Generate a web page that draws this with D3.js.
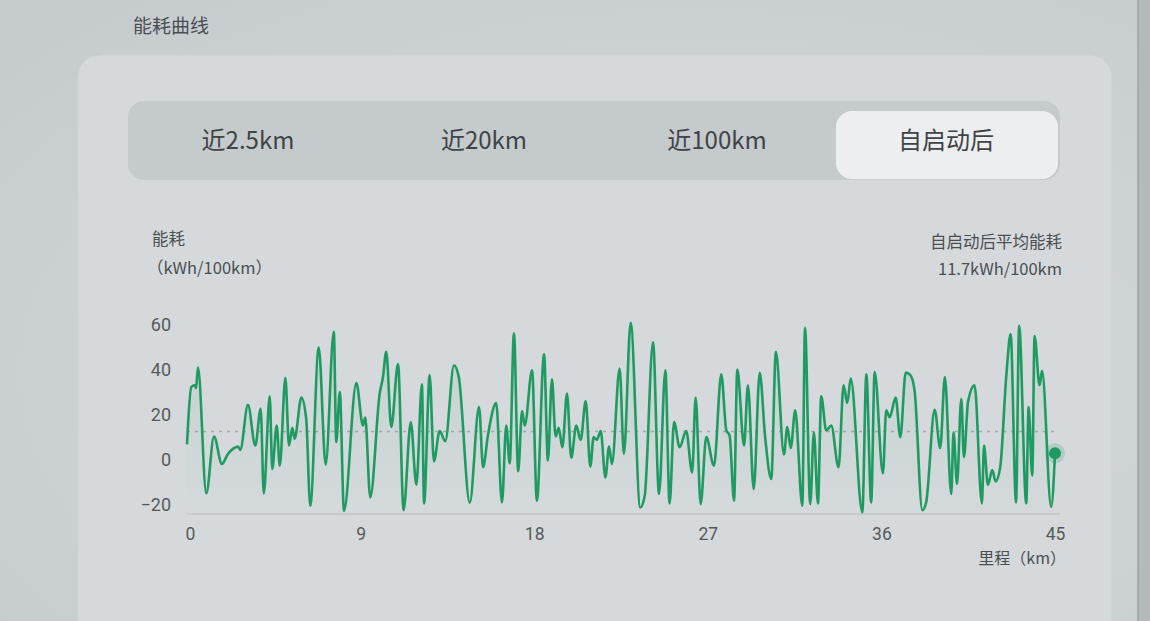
<!DOCTYPE html>
<html><head><meta charset="utf-8">
<script src="https://cdn.jsdelivr.net/npm/d3@7"></script>
<style>
html,body{margin:0;padding:0;background:#cfd3d5;}
svg{display:block;font-family:"Noto Sans CJK SC","Noto Sans",sans-serif;}
</style></head>
<body><svg id="c" width="1150" height="621"></svg>
<script>
// ---- data ----
const tabs = ["近2.5km", "近20km", "近100km", "自启动后"];
const xTickValues = [0, 9, 18, 27, 36, 45];
const yTickValues = [-20, 0, 20, 40, 60];
const averageValue = 11.7;
const distanceKm = [0,0.22,0.40,0.47,0.57,1.00,1.40,1.81,2.13,2.38,2.64,2.76,3.16,3.54,3.82,3.98,4.29,4.42,4.65,4.81,
5.10,5.29,5.46,5.58,5.93,6.18,6.39,6.83,7.19,7.61,7.74,7.92,8.14,8.78,9.12,9.24,9.50,9.99,10.16,10.33,
10.59,10.94,11.23,11.60,11.89,12.18,12.29,12.58,12.80,13.10,13.39,13.84,14.09,14.66,15.14,15.35,15.60,16.03,16.33,16.55,
16.73,16.95,17.17,17.37,17.51,17.89,18.14,18.51,18.71,18.92,19.11,19.27,19.46,19.70,19.92,20.18,20.41,20.67,20.91,21.08,
21.25,21.45,21.69,21.88,22.03,22.43,22.65,23.00,23.50,23.73,24.16,24.47,24.80,25.02,25.25,25.54,25.88,26.19,26.37,26.63,
26.92,27.32,27.70,27.96,28.13,28.36,28.53,28.88,29.08,29.38,29.69,29.98,30.29,30.53,30.95,31.12,31.30,31.53,31.90,32.04,
32.31,32.50,32.71,32.88,33.14,33.40,33.78,34.04,34.23,34.41,35.01,35.22,35.47,35.65,36.08,36.25,36.43,36.74,36.98,37.26,
37.50,37.72,38.12,38.32,38.76,39.05,39.29,39.62,39.74,39.92,40.14,40.28,40.49,40.83,41.21,41.32,41.52,41.75,41.92,42.16,
42.47,42.70,42.98,43.14,43.51,43.63,43.82,43.94,44.20,44.33,44.80,45.00];
const energyValues = [6,31.5,32.3,31,40.2,-15.8,9.5,-2.7,1.8,4,5,3.5,23.6,5.5,21.9,-15.8,27.4,-5,14.4,-3.5,
35.6,5.5,13.4,8.5,26.8,17.4,-21.3,49.1,-3,56.1,7,29.3,-23.6,33.3,14.4,17.9,-17.6,28.6,36,47.2,
13.7,41.7,-23.3,15.9,-12,32.7,-20.3,36.8,-1.5,11.9,7.4,41.2,36,-19.9,22.6,-4.2,9.9,24.4,-19.9,14.4,
-2.4,55.4,-6,20.8,14.4,39,-19.1,46.1,-1.2,35,9.5,13.4,4.7,28.6,0,14.4,8,25.3,-3.9,9.2,
8,11.9,-8.7,5,-2.7,39.7,1.8,60.1,-22.1,-16.9,51.4,-16.1,39,-20.3,15.9,4.7,11.9,-6.5,26.8,-20.6,
9.2,-3.5,37.2,12.2,10,-19.1,39.3,5.5,32.3,-13.9,37.8,8.5,-9.4,47.2,1.5,13.7,4.4,21.1,-21.3,57.9,
-20.6,11.4,-20.3,27.4,12.2,14.4,-4.2,32.3,24.4,35.3,-24.3,37.2,-19.9,38.2,-6.9,21.1,18.1,26.8,9.2,37.9,
36.8,30,-23.3,-19.9,21.4,4.4,36,-16.1,11.4,-11.6,26.3,0.3,24.8,32.3,-20.3,5.5,-12,-5.4,-10.5,-4.2,
36,55.1,-19.9,58.7,-20.3,22.6,-7.9,54.2,32.3,38.7,-21.8,2];

// ---- layout ----
const svg = d3.select("#c");
const W = 1150, H = 621;
const textCol = "#4a4f53";
const green = "#1f9a63";

const defs = svg.append("defs");
const bgGrad = defs.append("radialGradient").attr("id","bg").attr("cx","60%").attr("cy","60%").attr("r","80%");
bgGrad.append("stop").attr("offset","0%").attr("stop-color","#d7dbdd");
bgGrad.append("stop").attr("offset","100%").attr("stop-color","#c6cbce");
const areaGrad = defs.append("linearGradient").attr("id","ag").attr("x1",0).attr("x2",0).attr("y1",0).attr("y2",1);
areaGrad.append("stop").attr("offset","0%").attr("stop-color",green).attr("stop-opacity",0.10);
areaGrad.append("stop").attr("offset","100%").attr("stop-color",green).attr("stop-opacity",0.0);

svg.append("rect").attr("width",W).attr("height",H).attr("fill","url(#bg)");
// card
svg.append("rect").attr("x",78).attr("y",55).attr("width",1034).attr("height",620).attr("rx",22)
  .attr("fill","#d5d9db").attr("stroke","#cdd1d3");
// right bezel
svg.append("rect").attr("x",1138).attr("y",0).attr("width",12).attr("height",H).attr("fill","#b4b9bc");
svg.append("line").attr("x1",1138).attr("x2",1138).attr("y1",0).attr("y2",H).attr("stroke","#9ea3a6").attr("stroke-width",1.5);

// title
svg.append("text").attr("x",133).attr("y",33).attr("font-size",19).attr("fill",textCol).text("能耗曲线");

// tab bar
svg.append("rect").attr("x",128).attr("y",101).attr("width",932).attr("height",79).attr("rx",16).attr("fill","#c5cacd");
svg.append("rect").attr("x",836).attr("y",111).attr("width",222).attr("height",68).attr("rx",16).attr("fill","#eceeef");
const tabCenters = [248, 484, 717, 946];
svg.selectAll(".tab").data(tabs).join("text").attr("class","tab")
  .attr("x",(d,i)=>tabCenters[i]).attr("y",141).attr("dy","0.35em").attr("text-anchor","middle")
  .attr("font-size",24).attr("fill","#3f4447").text(d=>d);

// axis titles
svg.append("text").attr("x",152).attr("y",245).attr("font-size",16.5).attr("fill",textCol).text("能耗");
svg.append("text").attr("x",147).attr("y",274).attr("font-size",16.5).attr("fill",textCol).text("（kWh/100km）");
svg.append("text").attr("x",1062).attr("y",248).attr("text-anchor","end").attr("font-size",16.5).attr("fill",textCol).text("自启动后平均能耗");
svg.append("text").attr("x",1062).attr("y",275).attr("text-anchor","end").attr("font-size",16.5).attr("fill",textCol).text(averageValue + "kWh/100km");
svg.append("text").attr("x",1066).attr("y",564).attr("text-anchor","end").attr("font-size",16).attr("fill",textCol).text("里程（km）");

// scales
const x = d3.scaleLinear().domain([0,45]).range([187,1055]);
const y = d3.scaleLinear().domain([-25,60]).range([514,323]);

// x axis
const gx = svg.append("g").attr("transform",`translate(0,${y(-25)})`)
  .call(d3.axisBottom(x).tickValues(xTickValues).tickSize(0).tickPadding(14).tickFormat(d3.format("d")));
gx.select(".domain").attr("stroke","#b9bec1").attr("stroke-width",1.2).attr("d",`M187,0H1060`);
gx.selectAll("text").attr("font-size",17.5).attr("fill","#55595c").attr("font-family","Roboto,'Noto Sans',sans-serif");
gx.selectAll(".tick").filter(d=>d===0).select("text").attr("dx",3);

// y axis
const gy = svg.append("g").attr("transform","translate(187,0)")
  .call(d3.axisLeft(y).tickValues(yTickValues).tickSize(0).tickPadding(16).tickFormat(d3.format("d")));
gy.select(".domain").remove();
gy.selectAll("text").attr("font-size",18).attr("fill","#55595c").attr("dy","0.42em").attr("font-family","Roboto,'Noto Sans',sans-serif");

// average dashed line
svg.append("line").attr("x1",x(0)).attr("x2",x(45)).attr("y1",y(averageValue)).attr("y2",y(averageValue))
  .attr("stroke","#a3aaab").attr("stroke-width",1.6).attr("stroke-dasharray","3,5");

const pts = distanceKm.map((d,i)=>[d, energyValues[i]]);
const area = d3.area().x(d=>x(d[0])).y0(y(-25)).y1(d=>y(d[1])).curve(d3.curveMonotoneX);
svg.append("path").datum(pts).attr("d",area).attr("fill","url(#ag)");
const line = d3.line().x(d=>x(d[0])).y(d=>y(d[1])).curve(d3.curveMonotoneX);
svg.append("path").datum(pts).attr("d",line).attr("fill","none").attr("stroke",green)
  .attr("stroke-width",2.6).attr("stroke-linejoin","round");

// end dot
const last = pts[pts.length-1];
svg.append("circle").attr("cx",x(last[0])).attr("cy",y(last[1])).attr("r",10).attr("fill",green).attr("opacity",0.2);
svg.append("circle").attr("cx",x(last[0])).attr("cy",y(last[1])).attr("r",6).attr("fill",green);
</script></body></html>
